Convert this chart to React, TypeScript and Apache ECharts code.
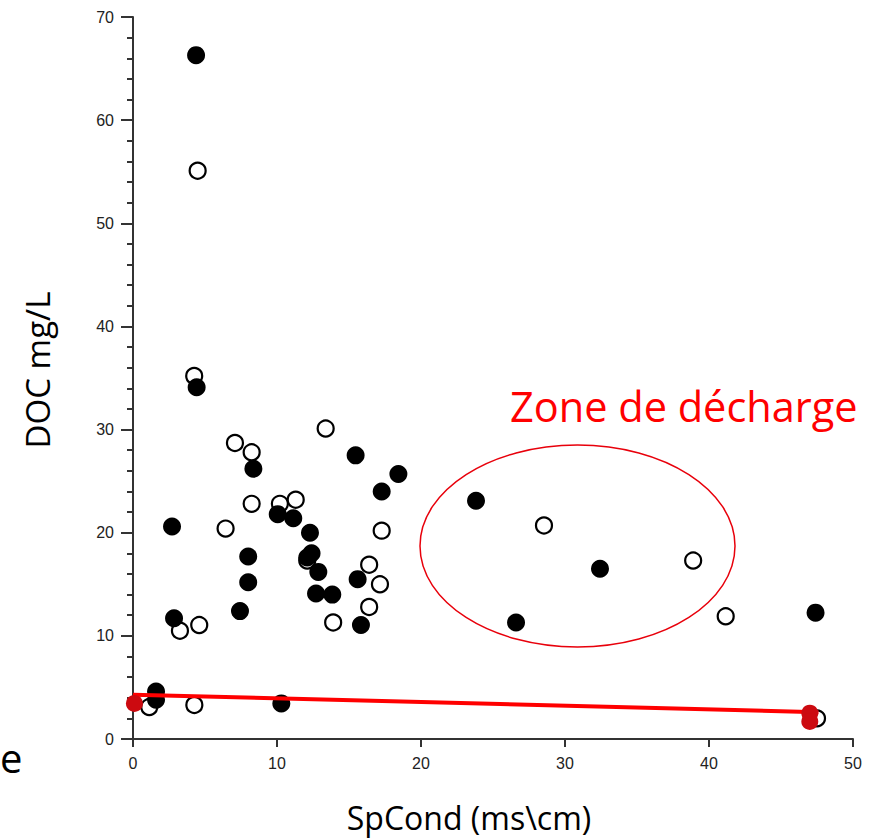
import React, { useEffect, useRef } from "react";
import * as echarts from "echarts";

// Open (hollow) samples
const openX = [4.49, 4.25, 7.08, 8.24, 13.38, 8.24, 10.2, 11.3, 6.43, 17.27, 16.4, 17.15, 16.4, 13.9, 3.26, 4.6, 12.1, 28.54, 38.9, 41.16, 47.5, 1.13, 4.26];
const openY = [55.1, 35.2, 28.7, 27.8, 30.1, 22.8, 22.8, 23.2, 20.4, 20.2, 16.9, 15.0, 12.8, 11.3, 10.5, 11.05, 17.3, 20.7, 17.3, 11.9, 2.0, 3.1, 3.3];

// Filled (black) samples
const filledX = [4.38, 4.42, 15.46, 18.43, 17.27, 8.36, 2.71, 10.05, 11.13, 12.29, 12.4, 12.1, 12.87, 12.71, 13.84, 8.0, 8.0, 7.43, 2.85, 15.6, 15.83, 23.82, 32.43, 26.6, 47.4, 1.6, 1.6, 10.3];
const filledY = [66.3, 34.1, 27.5, 25.7, 24.0, 26.2, 20.6, 21.8, 21.4, 20.0, 18.0, 17.6, 16.2, 14.1, 14.0, 17.7, 15.2, 12.4, 11.7, 15.5, 11.05, 23.1, 16.5, 11.3, 12.25, 4.6, 3.8, 3.45];

// Red end-member samples
const redX = [0.1, 47.0, 47.0];
const redY = [3.45, 2.5, 1.7];

// Red mixing line
const lineX = [0, 47.6];
const lineY = [4.3, 2.6];

const xTicks = [0, 50, 10];
const yTicks = [0, 70, 10];

const zip = (a: number[], b: number[]) => a.map((v, i) => [v, b[i]]);

export default function App() {
  const ref = useRef<HTMLDivElement>(null);
  useEffect(() => {
    if (!ref.current) return;
    const chart = echarts.init(ref.current, null, { renderer: "svg" });
    const tickFont = "'Liberation Sans Narrow', 'Liberation Sans', Arial, sans-serif";
    const titleFont = "'Open Sans', 'Noto Sans', sans-serif";
    chart.setOption({
      animation: false,
      backgroundColor: "#ffffff",
      grid: { left: 133, right: 20, top: 17, bottom: 99 },
      xAxis: {
        type: "value",
        min: xTicks[0],
        max: xTicks[1],
        interval: xTicks[2],
        axisLine: { show: true, lineStyle: { color: "#333", width: 2 } },
        axisTick: { show: true, length: 8, lineStyle: { color: "#333", width: 2 } },
        axisLabel: { color: "#222", fontSize: 16, fontFamily: tickFont, margin: 16 },
        splitLine: { show: false },
      },
      yAxis: {
        type: "value",
        min: yTicks[0],
        max: yTicks[1],
        interval: yTicks[2],
        axisLine: { show: true, lineStyle: { color: "#333", width: 2 } },
        axisTick: { show: true, length: 12, lineStyle: { color: "#333", width: 2 } },
        minorTick: { show: true, splitNumber: 5, length: 6, lineStyle: { color: "#333", width: 2 } },
        axisLabel: { color: "#222", fontSize: 16, fontFamily: tickFont, margin: 19 },
        splitLine: { show: false },
        minorSplitLine: { show: false },
      },
      series: [
        {
          type: "scatter",
          data: zip(openX, openY),
          symbol: "circle",
          symbolSize: 16,
          itemStyle: { color: "#ffffff", borderColor: "#000", borderWidth: 2.2, opacity: 1 },
          z: 2,
        },
        {
          type: "scatter",
          data: zip(filledX, filledY),
          symbol: "circle",
          symbolSize: 18,
          itemStyle: { color: "#000", opacity: 1 },
          z: 3,
        },
        {
          type: "line",
          data: zip(lineX, lineY),
          symbol: "none",
          lineStyle: { color: "#ff0000", width: 4 },
          z: 4,
        },
        {
          type: "scatter",
          data: zip(redX, redY),
          symbol: "circle",
          symbolSize: 17,
          itemStyle: { color: "#cc0a10", opacity: 1 },
          z: 5,
        },
      ],
      graphic: [
        {
          type: "ellipse",
          shape: { cx: 577.5, cy: 546, rx: 157.5, ry: 101 },
          style: { fill: "none", stroke: "#e8000b", lineWidth: 1.5 },
          z: 10,
        },
        {
          type: "text",
          x: 510,
          y: 406,
          style: {
            text: "Zone de décharge",
            fill: "#ff0000",
            font: `41.5px ${titleFont}`,
            align: "left",
            verticalAlign: "middle",
          },
          z: 10,
        },
        {
          type: "text",
          x: 37,
          y: 370,
          rotation: Math.PI / 2,
          style: {
            text: "DOC mg/L",
            fill: "#000",
            font: `33px ${titleFont}`,
            align: "center",
            verticalAlign: "middle",
          },
        },
        {
          type: "text",
          x: 469,
          y: 817,
          style: {
            text: "SpCond (ms\\cm)",
            fill: "#000",
            font: `32px ${titleFont}`,
            align: "center",
            verticalAlign: "middle",
          },
        },
        {
          type: "text",
          x: 0,
          y: 757,
          style: {
            text: "e",
            fill: "#000",
            font: `40px ${titleFont}`,
            align: "left",
            verticalAlign: "middle",
          },
        },
      ],
    });
    return () => chart.dispose();
  }, []);
  return (
    <div
      ref={ref}
      style={{ position: "fixed", left: 0, top: 0, width: 873, height: 838, background: "#fff" }}
    />
  );
}
